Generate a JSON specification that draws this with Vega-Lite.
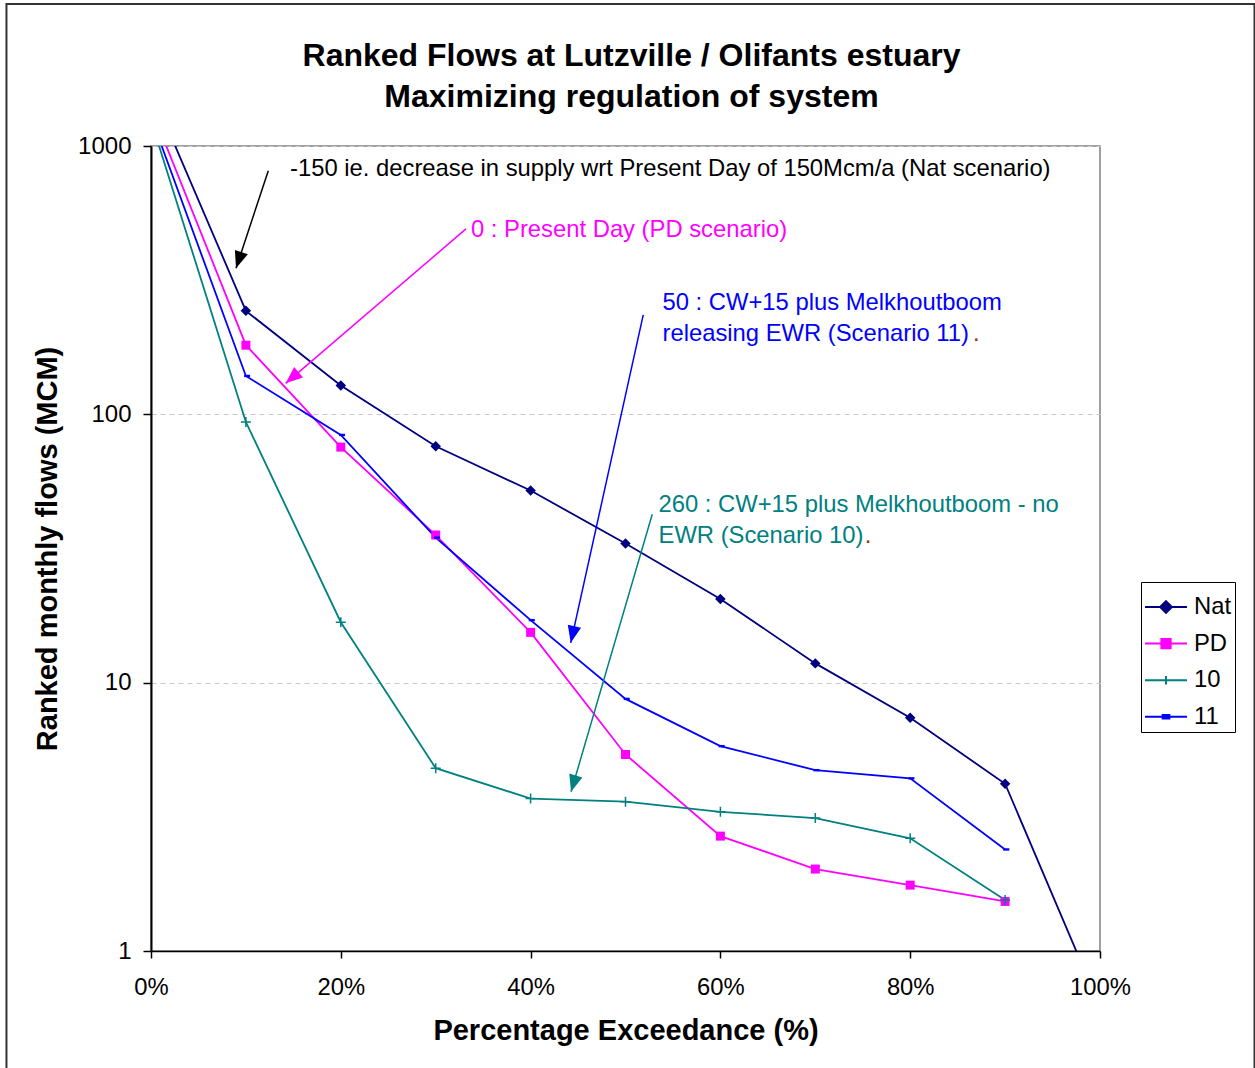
{
  "$schema": "https://vega.github.io/schema/vega-lite/v6.json",
  "width": 949,
  "height": 805,
  "autosize": {"type": "none"},
  "padding": {"left": 151, "top": 146, "right": 155, "bottom": 117},
  "background": "white",
  "config": {
    "font": "Liberation Sans",
    "view": {"stroke": "#808080", "strokeWidth": 1.5},
    "legend": {
      "orient": "none",
      "legendX": 990,
      "legendY": 436,
      "padding": 3,
      "strokeColor": "#000000",
      "fillColor": "#ffffff",
      "labelFontSize": 23.8,
      "labelColor": "#000000",
      "labelFont": "Liberation Sans",
      "symbolSize": 1764,
      "symbolStrokeWidth": 2,
      "symbolOpacity": 1,
      "rowPadding": 2.6,
      "labelOffset": 6
    }
  },
  "title": {
    "text": ["Ranked Flows at Lutzville / Olifants estuary", "Maximizing regulation of system"],
    "fontSize": 32,
    "fontWeight": "bold",
    "color": "#000000",
    "anchor": "middle",
    "frame": "group",
    "dx": 6,
    "offset": -111,
    "lineHeight": 41
  },
  "datasets": {
    "flows": [
      {"pct": 0.0, "flow": 1623, "series": "Nat"},
      {"pct": 0.1, "flow": 243, "series": "Nat"},
      {"pct": 0.2, "flow": 128, "series": "Nat"},
      {"pct": 0.3, "flow": 76, "series": "Nat"},
      {"pct": 0.4, "flow": 52, "series": "Nat"},
      {"pct": 0.5, "flow": 33, "series": "Nat"},
      {"pct": 0.6, "flow": 20.5, "series": "Nat"},
      {"pct": 0.7, "flow": 11.8, "series": "Nat"},
      {"pct": 0.8, "flow": 7.4, "series": "Nat"},
      {"pct": 0.9, "flow": 4.2, "series": "Nat"},
      {"pct": 1.0, "flow": 0.62, "series": "Nat"},
      {"pct": 0.0, "flow": 1388, "series": "PD"},
      {"pct": 0.1, "flow": 181, "series": "PD"},
      {"pct": 0.2, "flow": 75.5, "series": "PD"},
      {"pct": 0.3, "flow": 35.5, "series": "PD"},
      {"pct": 0.4, "flow": 15.4, "series": "PD"},
      {"pct": 0.5, "flow": 5.4, "series": "PD"},
      {"pct": 0.6, "flow": 2.68, "series": "PD"},
      {"pct": 0.7, "flow": 2.02, "series": "PD"},
      {"pct": 0.8, "flow": 1.76, "series": "PD"},
      {"pct": 0.9, "flow": 1.53, "series": "PD"},
      {"pct": 0.0, "flow": 1246, "series": "10"},
      {"pct": 0.1, "flow": 93.6, "series": "10"},
      {"pct": 0.2, "flow": 16.8, "series": "10"},
      {"pct": 0.3, "flow": 4.8, "series": "10"},
      {"pct": 0.4, "flow": 3.7, "series": "10"},
      {"pct": 0.5, "flow": 3.6, "series": "10"},
      {"pct": 0.6, "flow": 3.3, "series": "10"},
      {"pct": 0.7, "flow": 3.13, "series": "10"},
      {"pct": 0.8, "flow": 2.63, "series": "10"},
      {"pct": 0.9, "flow": 1.55, "series": "10"},
      {"pct": 0.0, "flow": 1285, "series": "11"},
      {"pct": 0.1, "flow": 139, "series": "11"},
      {"pct": 0.2, "flow": 83.8, "series": "11"},
      {"pct": 0.3, "flow": 34.7, "series": "11"},
      {"pct": 0.4, "flow": 17.1, "series": "11"},
      {"pct": 0.5, "flow": 8.7, "series": "11"},
      {"pct": 0.6, "flow": 5.8, "series": "11"},
      {"pct": 0.7, "flow": 4.72, "series": "11"},
      {"pct": 0.8, "flow": 4.4, "series": "11"},
      {"pct": 0.9, "flow": 2.39, "series": "11"}
    ],
    "notes": [
      {"x": 0.1465, "y": 821, "text": "-150 ie. decrease in supply wrt Present Day of 150Mcm/a (Nat scenario)", "note": "nat"},
      {"x": 0.3372, "y": 486.5, "text": "0 : Present Day (PD scenario)", "note": "pd"},
      {"x": 0.539, "y": 261, "text": "50 : CW+15 plus Melkhoutboom", "note": "s11"},
      {"x": 0.539, "y": 200, "text": "releasing EWR (Scenario 11)", "note": "s11"},
      {"x": 0.8662, "y": 200, "text": ".", "note": "dot"},
      {"x": 0.5348, "y": 45.9, "text": "260 : CW+15 plus Melkhoutboom - no", "note": "s10"},
      {"x": 0.5348, "y": 35.35, "text": "EWR (Scenario 10)", "note": "s10"},
      {"x": 0.752, "y": 35.35, "text": ".", "note": "dot"}
    ],
    "arrows": [
      {"x": 0.1236, "y": 809, "x2": 0.0896, "y2": 350, "note": "nat"},
      {"x": 0.3319, "y": 491, "x2": 0.1419, "y2": 130.5, "note": "pd"},
      {"x": 0.5187, "y": 234.6, "x2": 0.4423, "y2": 14.08, "note": "s11"},
      {"x": 0.5282, "y": 42.4, "x2": 0.4426, "y2": 3.92, "note": "s10"}
    ]
  },
  "layer": [
    {
      "data": {"values": [{}]},
      "mark": {"type": "rect", "fill": "#ffffff", "fillOpacity": 0, "stroke": "#333333", "strokeWidth": 2, "clip": false},
      "encoding": {
        "x": {"datum": -0.1523, "type": "quantitative"},
        "x2": {"datum": 1.1628},
        "y": {"datum": 3382, "type": "quantitative"},
        "y2": {"datum": 0.3}
      }
    },
    {
      "data": {"name": "flows"},
      "mark": {"type": "line", "clip": true, "strokeWidth": 1.8},
      "encoding": {
        "x": {
          "field": "pct", "type": "quantitative",
          "scale": {"domain": [0, 1], "nice": false, "zero": false},
          "axis": {
            "values": [0, 0.2, 0.4, 0.6, 0.8, 1],
            "format": ".0%",
            "title": "Percentage Exceedance (%)",
            "grid": false,
            "labelFontSize": 23.8,
            "labelColor": "#000000",
            "labelOverlap": false,
            "labelFlush": false,
            "labelBound": false,
            "tickSize": 7,
            "tickColor": "#000000",
            "tickWidth": 1.5,
            "domainColor": "#000000",
            "domainWidth": 1.5,
            "labelPadding": 17,
            "titleFontSize": 29,
            "titleFontWeight": "bold",
            "titleColor": "#000000",
            "titlePadding": 18
          }
        },
        "y": {
          "field": "flow", "type": "quantitative",
          "scale": {"type": "log", "domain": [1, 1000], "nice": false},
          "axis": {
            "values": [1, 10, 100, 1000],
            "format": "d",
            "title": "Ranked monthly flows (MCM)",
            "grid": true,
            "gridDash": [5, 4],
            "gridColor": "#c8c8c8",
            "gridWidth": 1,
            "labelFontSize": 24,
            "labelColor": "#000000",
            "labelOverlap": false,
            "labelFlush": false,
            "labelBound": false,
            "tickSize": 8,
            "tickColor": "#000000",
            "tickWidth": 1.5,
            "domainColor": "#000000",
            "domainWidth": 2,
            "labelPadding": 12,
            "titleFontSize": 29,
            "titleFontWeight": "bold",
            "titleColor": "#000000",
            "titlePadding": 15
          }
        },
        "stroke": {
          "field": "series", "type": "nominal",
          "scale": {"domain": ["Nat", "PD", "10", "11"], "range": ["#000080", "#FF00FF", "#008080", "#0000FF"]},
          "legend": {"title": null}
        }
      }
    },
    {
      "data": {"name": "flows"},
      "transform": [{"filter": "datum.series === 'Nat'"}],
      "mark": {"type": "point", "shape": "diamond", "size": 110, "filled": true, "color": "#000080", "opacity": 1, "clip": true},
      "encoding": {
        "x": {"field": "pct", "type": "quantitative"},
        "y": {"field": "flow", "type": "quantitative"}
      }
    },
    {
      "data": {"name": "flows"},
      "transform": [{"filter": "datum.series === 'PD'"}],
      "mark": {"type": "point", "shape": "square", "size": 81, "filled": true, "color": "#FF00FF", "opacity": 1, "clip": true},
      "encoding": {
        "x": {"field": "pct", "type": "quantitative"},
        "y": {"field": "flow", "type": "quantitative"}
      }
    },
    {
      "data": {"name": "flows"},
      "transform": [{"filter": "datum.series === '10'"}],
      "mark": {"type": "point", "shape": "M-1,0L1,0M0,-1L0,1", "size": 100, "filled": false, "color": "#008080", "strokeWidth": 1.5, "opacity": 1, "clip": true},
      "encoding": {
        "x": {"field": "pct", "type": "quantitative"},
        "y": {"field": "flow", "type": "quantitative"}
      }
    },
    {
      "data": {"name": "flows"},
      "transform": [{"filter": "datum.series === '11'"}],
      "mark": {"type": "point", "shape": "M-0.6,-0.4L1.4,-0.4L1.4,0.4L-0.6,0.4Z", "size": 36, "filled": true, "color": "#0000FF", "opacity": 1, "clip": true},
      "encoding": {
        "x": {"field": "pct", "type": "quantitative"},
        "y": {"field": "flow", "type": "quantitative"}
      }
    },
    {
      "data": {"name": "flows"},
      "transform": [{"filter": "datum.pct > 5"}],
      "mark": {"type": "point", "filled": true, "strokeWidth": 2, "opacity": 1, "clip": true},
      "encoding": {
        "x": {"field": "pct", "type": "quantitative"},
        "y": {"field": "flow", "type": "quantitative"},
        "stroke": {"field": "series", "type": "nominal", "legend": {"title": null}},
        "fill": {
          "field": "series", "type": "nominal",
          "scale": {"domain": ["Nat", "PD", "10", "11"], "range": ["#000080", "#FF00FF", "#008080", "#0000FF"]},
          "legend": {"title": null}
        },
        "shape": {
          "field": "series", "type": "nominal",
          "scale": {
            "domain": ["Nat", "PD", "10", "11"],
            "range": [
              "M-1,0L1,0M0,-0.28L0.28,0L0,0.28L-0.28,0Z",
              "M-1,0L1,0M-0.22,-0.22L0.22,-0.22L0.22,0.22L-0.22,0.22Z",
              "M-1,0L1,0M0,-0.2L0,0.2",
              "M-1,0L1,0M-0.16,-0.08L0.16,-0.08L0.16,0.08L-0.16,0.08Z"
            ]
          },
          "legend": {"title": null}
        }
      }
    },
    {
      "data": {"name": "arrows"},
      "mark": {"type": "rule", "strokeWidth": 1.5},
      "encoding": {
        "x": {"field": "x", "type": "quantitative"},
        "y": {"field": "y", "type": "quantitative"},
        "x2": {"field": "x2"},
        "y2": {"field": "y2"},
        "color": {
          "field": "note", "type": "nominal",
          "scale": {"domain": ["nat", "pd", "s11", "s10", "dot"], "range": ["#000000", "#FF00FF", "#0000FF", "#008080", "#993300"]},
          "legend": null
        }
      }
    },
    {
      "data": {"name": "arrows"},
      "transform": [{"filter": "datum.note === 'nat'"}],
      "mark": {"type": "point", "shape": "M0,0L0.8,2L-0.8,2Z", "size": 289, "filled": true, "opacity": 1, "angle": 198.3},
      "encoding": {
        "x": {"field": "x2", "type": "quantitative"},
        "y": {"field": "y2", "type": "quantitative"},
        "color": {"field": "note", "type": "nominal", "legend": null}
      }
    },
    {
      "data": {"name": "arrows"},
      "transform": [{"filter": "datum.note === 'pd'"}],
      "mark": {"type": "point", "shape": "M0,0L0.8,2L-0.8,2Z", "size": 289, "filled": true, "opacity": 1, "angle": 229.4},
      "encoding": {
        "x": {"field": "x2", "type": "quantitative"},
        "y": {"field": "y2", "type": "quantitative"},
        "color": {"field": "note", "type": "nominal", "legend": null}
      }
    },
    {
      "data": {"name": "arrows"},
      "transform": [{"filter": "datum.note === 's11'"}],
      "mark": {"type": "point", "shape": "M0,0L0.8,2L-0.8,2Z", "size": 289, "filled": true, "opacity": 1, "angle": 192.5},
      "encoding": {
        "x": {"field": "x2", "type": "quantitative"},
        "y": {"field": "y2", "type": "quantitative"},
        "color": {"field": "note", "type": "nominal", "legend": null}
      }
    },
    {
      "data": {"name": "arrows"},
      "transform": [{"filter": "datum.note === 's10'"}],
      "mark": {"type": "point", "shape": "M0,0L0.8,2L-0.8,2Z", "size": 289, "filled": true, "opacity": 1, "angle": 196.3},
      "encoding": {
        "x": {"field": "x2", "type": "quantitative"},
        "y": {"field": "y2", "type": "quantitative"},
        "color": {"field": "note", "type": "nominal", "legend": null}
      }
    },
    {
      "data": {"name": "notes"},
      "mark": {"type": "text", "align": "left", "baseline": "middle", "fontSize": 23.8},
      "encoding": {
        "x": {"field": "x", "type": "quantitative"},
        "y": {"field": "y", "type": "quantitative"},
        "text": {"field": "text", "type": "nominal"},
        "color": {"field": "note", "type": "nominal", "legend": null}
      }
    }
  ]
}
